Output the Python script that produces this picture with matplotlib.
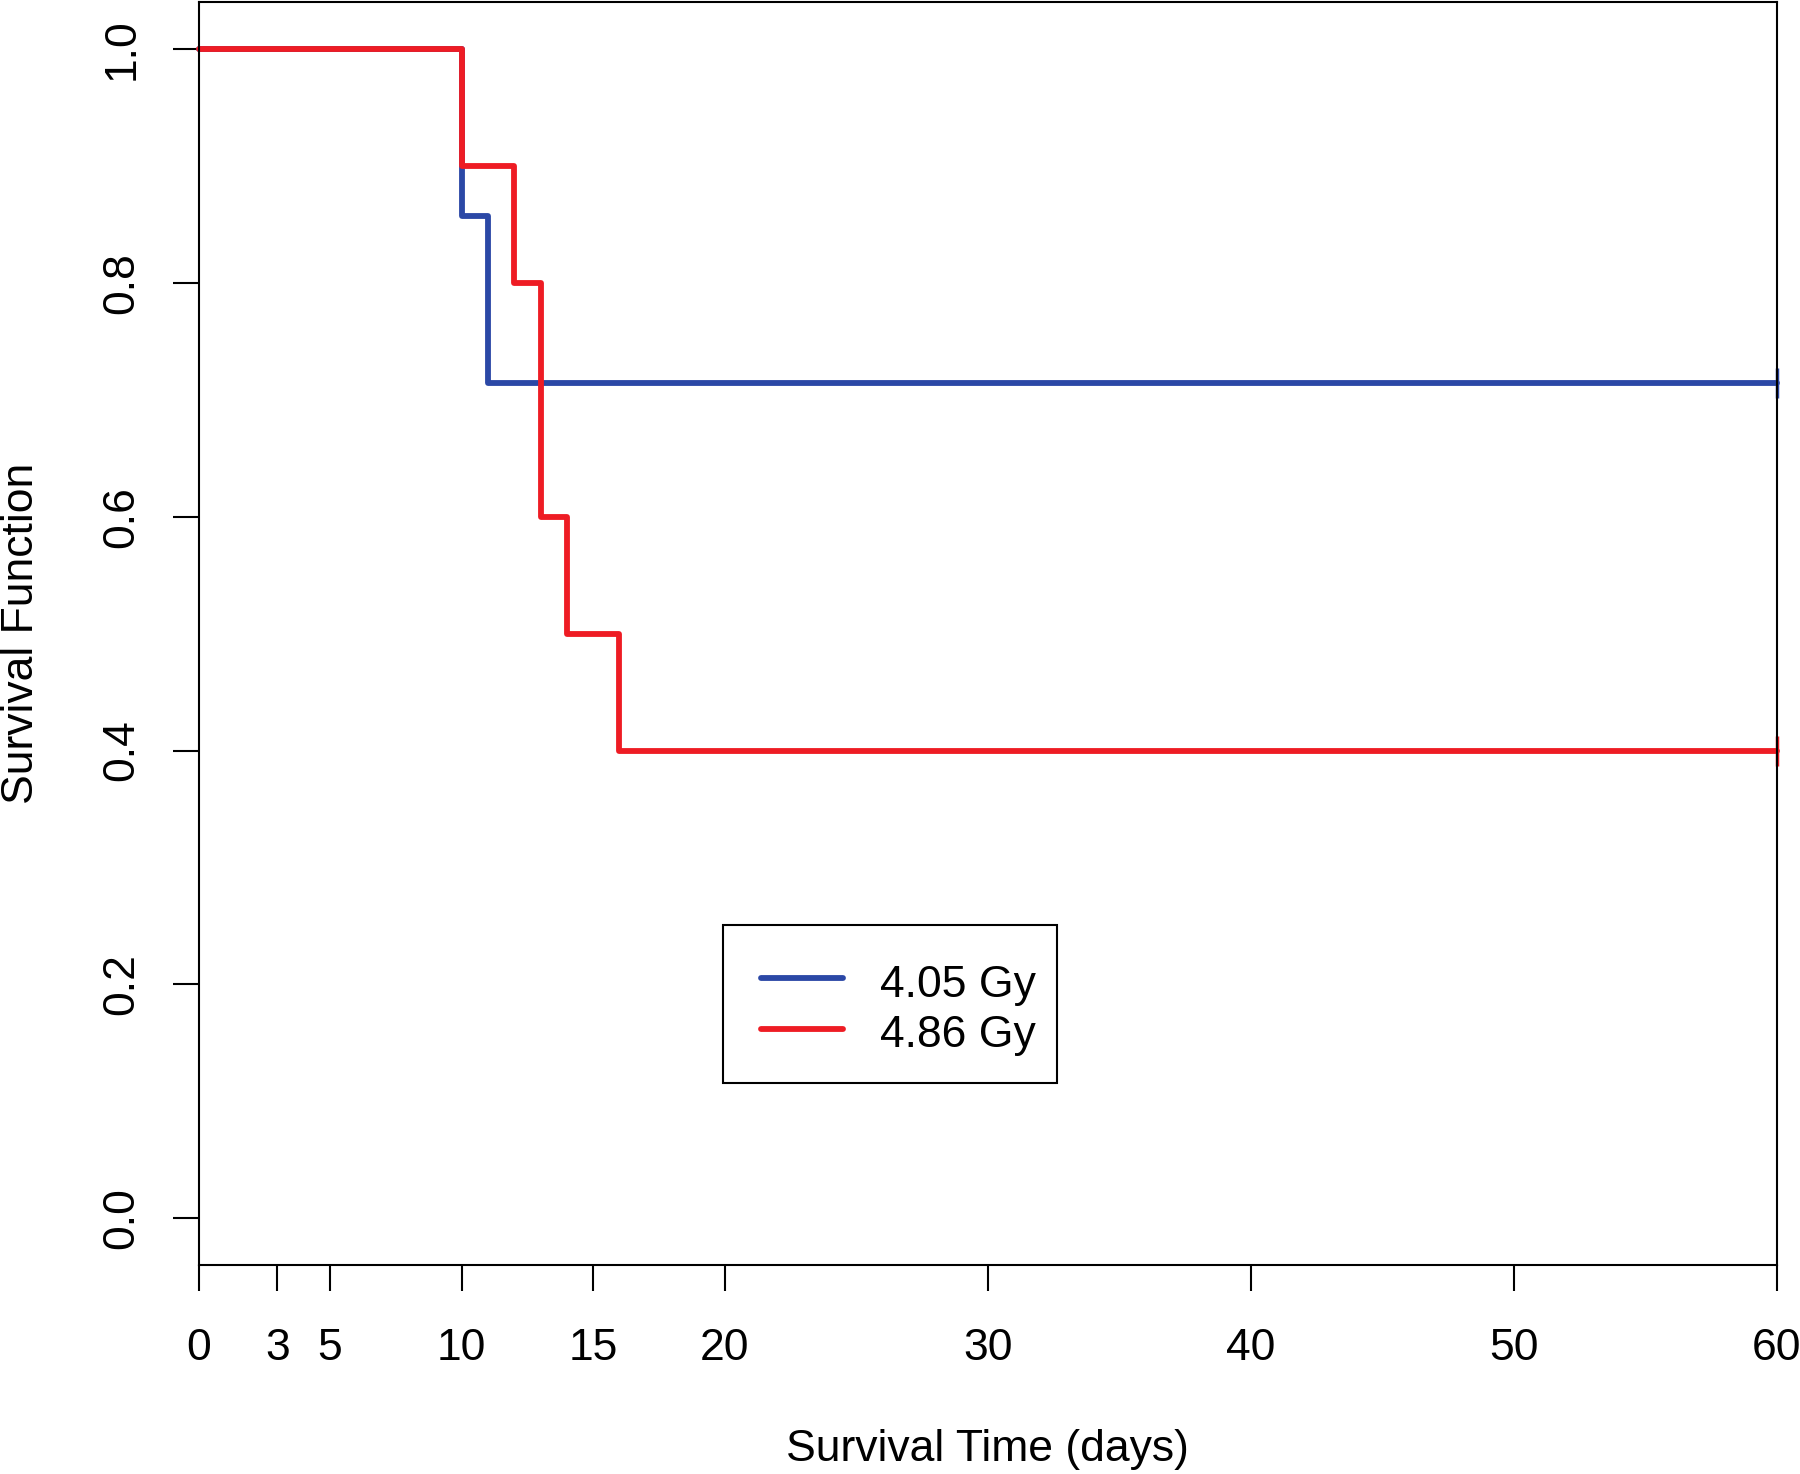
import matplotlib
matplotlib.use("Agg")
import matplotlib.pyplot as plt
from matplotlib.patches import Rectangle

plt.rcParams['font.family'] = ['Liberation Sans', 'DejaVu Sans']

# Kaplan-Meier estimates
time_405 = [0, 10, 11, 60]
surv_405 = [1.0, 0.857, 0.714, 0.714]
time_486 = [0, 10, 12, 13, 14, 16, 60]
surv_486 = [1.0, 0.9, 0.8, 0.6, 0.5, 0.4, 0.4]

labels = ['4.05 Gy', '4.86 Gy']
colors = ['#2B48A6', '#EE1C24']

xticks = [0, 3, 5, 10, 15, 20, 30, 40, 50, 60]
yticks = [0.0, 0.2, 0.4, 0.6, 0.8, 1.0]

fig = plt.figure(figsize=(18, 14.74), dpi=100)
ax = fig.add_axes([0.1103, 0.1418, 0.8769, 0.8566])

for t, s, c in [(time_405, surv_405, colors[0]),
                (time_486, surv_486, colors[1])]:
    ax.step(t, s, where='post', color=c, lw=4.2,
            solid_capstyle='round', solid_joinstyle='round', clip_on=False)
    # censoring marks at end of follow-up
    ax.plot([t[-1]], [s[-1]], marker='|', color=c, markersize=21,
            markeredgewidth=2.5, clip_on=False, zorder=1)

ax.set_xlim(0, 60)
ax.set_ylim(-0.04, 1.04)

ax.set_xticks(xticks)
ax.set_xticklabels([str(x) for x in xticks])
ax.set_yticks(yticks)
ax.set_yticklabels([f"{y:.1f}" for y in yticks], rotation=90, va='center')

ax.tick_params(axis='both', labelsize=32, length=18.5, width=1.5)
ax.tick_params(axis='x', pad=27)
ax.tick_params(axis='y', pad=22)

for sp in ax.spines.values():
    sp.set_linewidth(1.5)

ax.set_xlabel('Survival Time (days)', fontsize=32, labelpad=43)
ax.set_ylabel('Survival Function', fontsize=32, labelpad=43)

# legend box, drawn by hand to match the original's spacing
ax.add_patch(Rectangle((0.3322, 0.1441), 0.5438 - 0.3322, 0.2693 - 0.1441,
                       transform=ax.transAxes, fill=True, facecolor='white',
                       edgecolor='black', lw=1.5, zorder=5))
for row_y, base_y, c, lab in [(0.2273, 0.2122, colors[0], labels[0]),
                              (0.1869, 0.1726, colors[1], labels[1])]:
    ax.plot([0.3563, 0.4083], [row_y, row_y], color=c, lw=4.2,
            solid_capstyle='round', transform=ax.transAxes, zorder=6)
    ax.text(0.4317, base_y, lab, fontsize=32, va='baseline', ha='left',
            transform=ax.transAxes, zorder=6)

fig.savefig('out.png', dpi=100)
